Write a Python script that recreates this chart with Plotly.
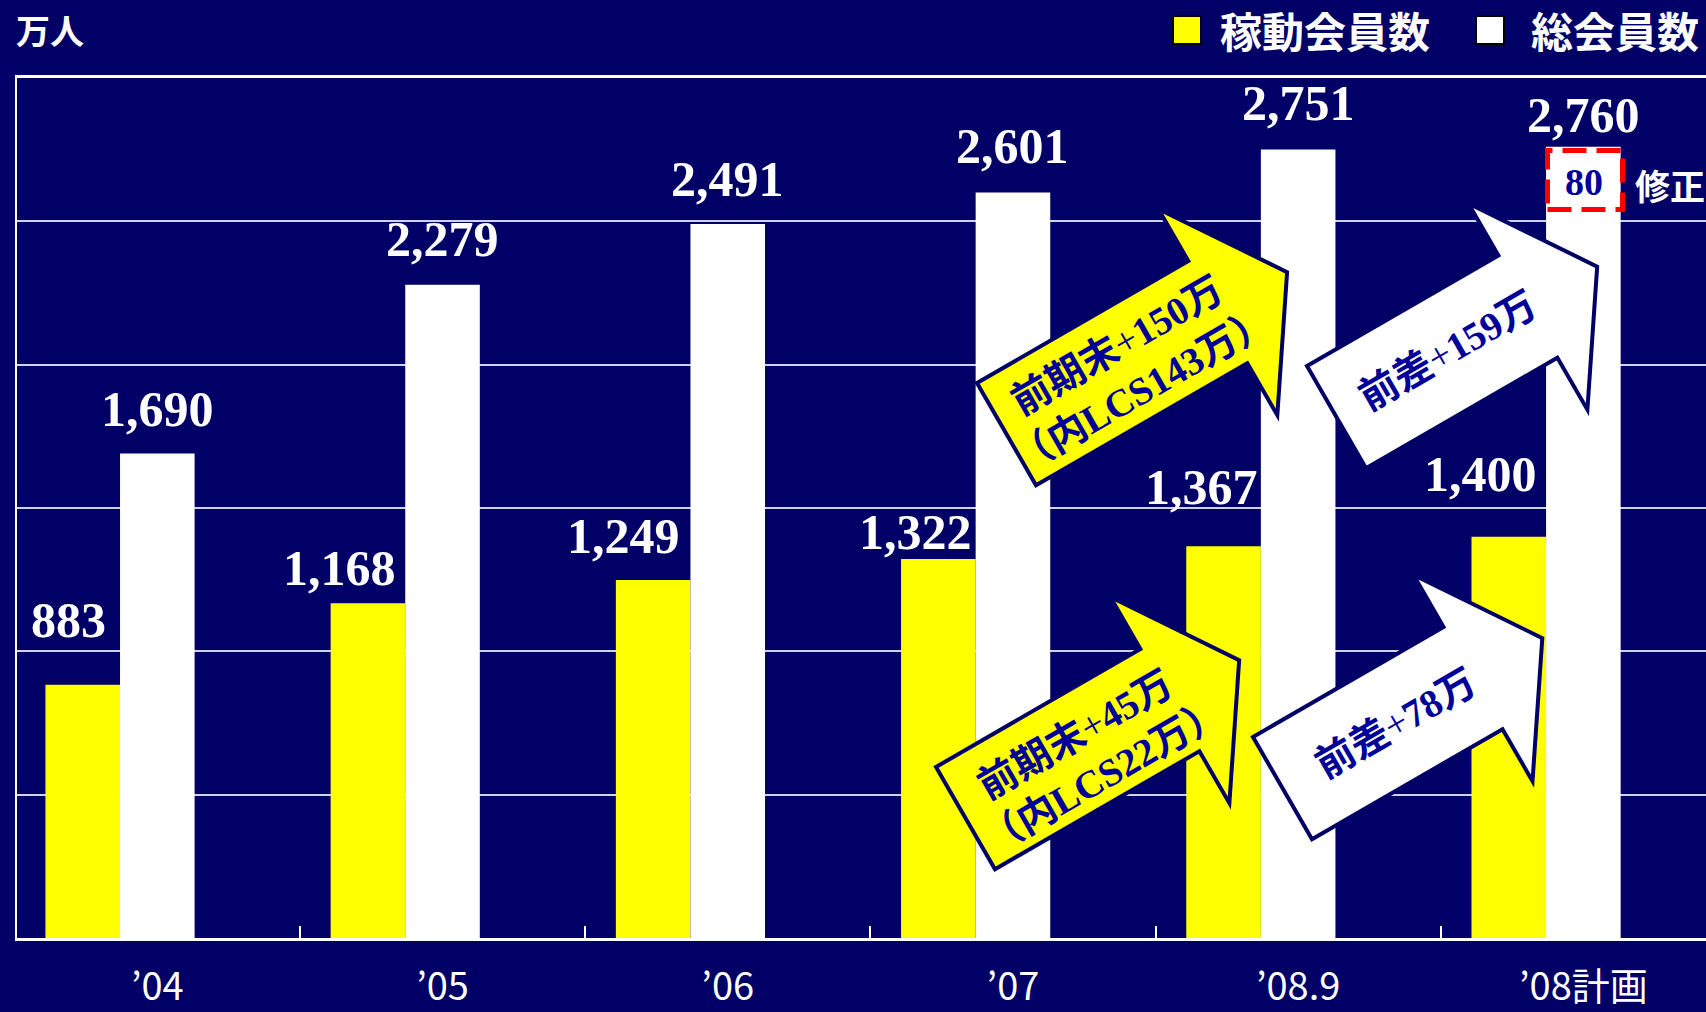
import math
import plotly.graph_objects as go

# ---- data (万人) ----
categories = ["’04", "’05", "’06", "’07", "’08.9", "’08計画"]
active_members = [883, 1168, 1249, 1322, 1367, 1400]     # 稼動会員数
total_members = [1690, 2279, 2491, 2601, 2751, 2760]     # 総会員数

# ---- page geometry ----
W, H = 1706, 1012
ML, MR, MT, MB = 17, 0, 78, 74
PW, PH = W - ML - MR, H - MT - MB

BG = "#000066"
NAVY_TEXT = "#000099"
BAR_W = 0.2615           # bar width in category units
X_RANGE = [-0.492, 5.43]

# per-label placement tweaks (pixels)
active_label_dx = [-14, -28, -30, -23, -22, -28]
active_label_gap = [47, 17, 26, 9, 41, 45]
total_label_gap = [27, 28, 27, 28, 28, 14]


def px(X):
    return (X - ML) / PW


def py(Y):
    return (H - MB - Y) / PH


fig = go.Figure()
fig.add_trace(go.Bar(
    x=categories, y=active_members, name="稼動会員数",
    width=BAR_W, offset=-1.5 * BAR_W,
    marker=dict(color="#FFFF00", line=dict(width=0)),
    hoverinfo="skip",
))
fig.add_trace(go.Bar(
    x=categories, y=total_members, name="総会員数",
    width=BAR_W, offset=-0.5 * BAR_W,
    marker=dict(color="#FFFFFF", line=dict(width=0)),
    hoverinfo="skip",
))

annotations = []
shapes = []

LABEL_FONT = dict(family="Liberation Serif, Times New Roman, serif", size=50,
                  color="white", weight="bold")
DESC = 12  # distance from box bottom to baseline

for i, v in enumerate(active_members):
    annotations.append(dict(
        x=i - BAR_W, y=v, xref="x", yref="y", text=f"{v:,}",
        showarrow=False, xanchor="center", yanchor="bottom",
        xshift=active_label_dx[i], yshift=active_label_gap[i] - DESC,
        font=LABEL_FONT,
    ))
for i, v in enumerate(total_members):
    annotations.append(dict(
        x=i, y=v, xref="x", yref="y", text=f"{v:,}",
        showarrow=False, xanchor="center", yanchor="bottom",
        yshift=total_label_gap[i] - DESC,
        font=LABEL_FONT,
    ))

# ---- rotated block arrows ----
ANG = math.radians(30)
DX = (math.cos(ANG), -math.sin(ANG))
NX = (math.sin(ANG), math.cos(ANG))
BODY_W, HEAD, OVER = 118, 80, 60


def local_to_screen(x0, y0, u, v):
    return x0 + u * DX[0] + v * NX[0], y0 + u * DX[1] + v * NX[1]


def arrow(x0, y0, body_len, fill, lines):
    pts = [(0, 0), (body_len, 0), (body_len, -OVER),
           (body_len + HEAD, BODY_W / 2), (body_len, BODY_W + OVER),
           (body_len, BODY_W), (0, BODY_W)]
    scr = [local_to_screen(x0, y0, u, v) for u, v in pts]
    path = "M " + " L ".join(f"{px(X):.5f},{py(Y):.5f}" for X, Y in scr) + " Z"
    shapes.append(dict(type="path", xref="paper", yref="paper", path=path,
                       fillcolor=fill, line=dict(color="#000066", width=4),
                       layer="above"))
    for text, u, v in lines:
        X, Y = local_to_screen(x0, y0, u, v)
        annotations.append(dict(
            x=px(X), y=py(Y), xref="paper", yref="paper", text=text,
            showarrow=False, textangle=-30, xanchor="center", yanchor="middle",
            font=dict(family="Liberation Serif, Noto Sans CJK JP", size=39,
                      color=NAVY_TEXT, weight="bold"),
        ))


PLUS = '<span style="font-weight:normal">+</span>'
arrow(977, 383, 244, "#FFFF00",
      [(f"前期末{PLUS}150万", 140, 38), ("（内LCS143万）", 140, 88)])
arrow(1307, 366, 221, "#FFFFFF", [(f"前差{PLUS}159万", 130, 57)])
arrow(936, 767, 236, "#FFFF00",
      [(f"前期末{PLUS}45万", 137, 42), ("（内LCS22万）", 141, 91)])
arrow(1253, 737, 220, "#FFFFFF", [(f"前差{PLUS}78万", 130, 60)])

# ---- revision box on the last total bar ----
shapes.append(dict(type="rect", xref="paper", yref="paper",
                   x0=px(1547.5), x1=px(1622.5), y0=py(209.5), y1=py(150.5),
                   line=dict(color="#FF0000", width=5, dash="24px,10px"),
                   layer="above"))
annotations.append(dict(x=px(1584), y=py(182), xref="paper", yref="paper",
                        text="80", showarrow=False,
                        xanchor="center", yanchor="middle",
                        font=dict(family="Liberation Serif", size=38,
                                  color=NAVY_TEXT, weight="bold")))
annotations.append(dict(x=px(1633), y=py(184), xref="paper", yref="paper",
                        text="修正", showarrow=False,
                        xanchor="left", yanchor="middle",
                        font=dict(family="Noto Sans CJK JP", size=35,
                                  color="white", weight="bold")))

# ---- unit label and legend ----
annotations.append(dict(x=px(14), y=py(29), xref="paper", yref="paper",
                        text="万人", showarrow=False,
                        xanchor="left", yanchor="middle",
                        font=dict(family="Noto Sans CJK JP", size=34,
                                  color="white", weight="bold")))
for x0, colour, label, lx in [(1173, "#FFFF00", "稼動会員数", 1218),
                             (1476, "#FFFFFF", "総会員数", 1529)]:
    shapes.append(dict(type="rect", xref="paper", yref="paper",
                       x0=px(x0), x1=px(x0 + 28), y0=py(44), y1=py(16),
                       fillcolor=colour, line=dict(color="black", width=2)))
    annotations.append(dict(x=px(lx), y=py(29), xref="paper", yref="paper",
                            text=label, showarrow=False,
                            xanchor="left", yanchor="middle",
                            font=dict(family="Noto Sans CJK JP", size=42,
                                      color="white", weight="bold")))

fig.update_layout(
    width=W, height=H,
    margin=dict(l=ML, r=MR, t=MT, b=MB, pad=0, autoexpand=False),
    paper_bgcolor=BG, plot_bgcolor=BG,
    barmode="overlay", showlegend=False,
    annotations=annotations, shapes=shapes,
    xaxis=dict(
        type="category", categoryorder="array", categoryarray=categories,
        range=X_RANGE, showgrid=False, zeroline=False, automargin=False,
        showline=True, linecolor="white", linewidth=3, mirror=True,
        ticks="inside", tickson="boundaries", ticklen=12, tickwidth=1.5,
        tickcolor="white", ticklabelstandoff=13,
        tickfont=dict(family="Liberation Sans Narrow, Arial Narrow, Noto Sans CJK JP",
                      size=38, color="white"),
    ),
    yaxis=dict(
        range=[0, 3000], dtick=500, showticklabels=False, ticks="",
        showgrid=True, gridcolor="#d0d0e8", gridwidth=1.5, zeroline=False,
        automargin=False,
        showline=True, linecolor="white", linewidth=2,
    ),
)

fig.write_html("out.html")
